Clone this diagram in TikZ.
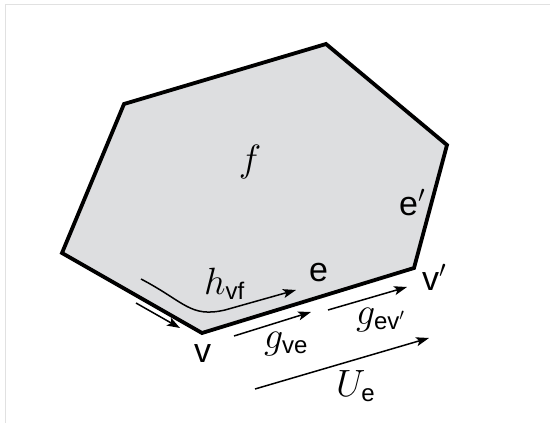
\RequirePackage{fix-cm}
\documentclass[tikz,border=0pt]{standalone}
\usepackage{fontspec}
\setsansfont{Liberation Sans}
\usetikzlibrary{arrows.meta}
\newcommand{\subsf}[1]{\mbox{\fontsize{24}{26}\selectfont\sffamily #1}}
\begin{document}
\begin{tikzpicture}[x=1pt,y=-1pt,
  face/.style={fill=facegray,draw=black,line width=3.8pt,line join=miter},
  arr/.style={line width=1.5pt,-{Stealth[length=13pt,width=9pt,inset=3pt]}},
  lbl/.style={inner sep=0pt,font=\fontsize{34}{38}\selectfont\sffamily},
  mlbl/.style={inner sep=0pt,font=\fontsize{38}{42}\selectfont}]
\definecolor{facegray}{RGB}{221,222,224}
\definecolor{framegray}{RGB}{225,225,225}
\useasboundingbox (0,0) rectangle (550,423);
\draw[framegray,line width=1pt] (5,423) -- (5,4.5) -- (550,4.5);
% polygon
\coordinate (p1) at (326,44);
\coordinate (p2) at (124,104);
\coordinate (p3) at (62,253);
\coordinate (v) at (202,333);
\coordinate (vp) at (414,268);
\coordinate (p6) at (447,145);
\draw[face] (p1) -- (p2) -- (p3) -- (v) -- (vp) -- (p6) -- cycle;
% labels
\node[mlbl] (f) at (250,161.5) {$f$};
\node[lbl,anchor=base west] (ep) at (399,215) {e$'$};
\node[lbl,anchor=base] (e) at (318.5,281) {e};
\node[lbl,anchor=base west] (vpl) at (422,290) {v$'$};
\node[lbl,anchor=base] (vl) at (202.5,362) {v};
\node[mlbl,anchor=base west] (h) at (204,294) {$h_{\subsf{vf}}$};
\node[mlbl,anchor=base west] (gve) at (264,348) {$g_{\subsf{ve}}$};
\node[mlbl,anchor=base west] (gev) at (356,324) {$g_{\subsf{ev$'$}}$};
\node[mlbl,anchor=base west] (U) at (336,396) {$U_{\subsf{e}}$};
% arrows
\coordinate (a1s) at (136,303);
\coordinate (a1e) at (180,328);
\draw[arr] (a1s) -- (a1e);
\coordinate (hs) at (141,279);
\coordinate (he) at (296,290);
\draw[arr] (hs) .. controls (185,302) and (190,318) .. (225,310) -- (he);
\coordinate (gs) at (234,336);
\coordinate (ge) at (311,312);
\draw[arr] (gs) -- (ge);
\coordinate (g2s) at (328,310);
\coordinate (g2e) at (407,287);
\draw[arr] (g2s) -- (g2e);
\coordinate (us) at (255,389);
\coordinate (ue) at (429,338);
\draw[arr] (us) -- (ue);
\end{tikzpicture}
\end{document}
